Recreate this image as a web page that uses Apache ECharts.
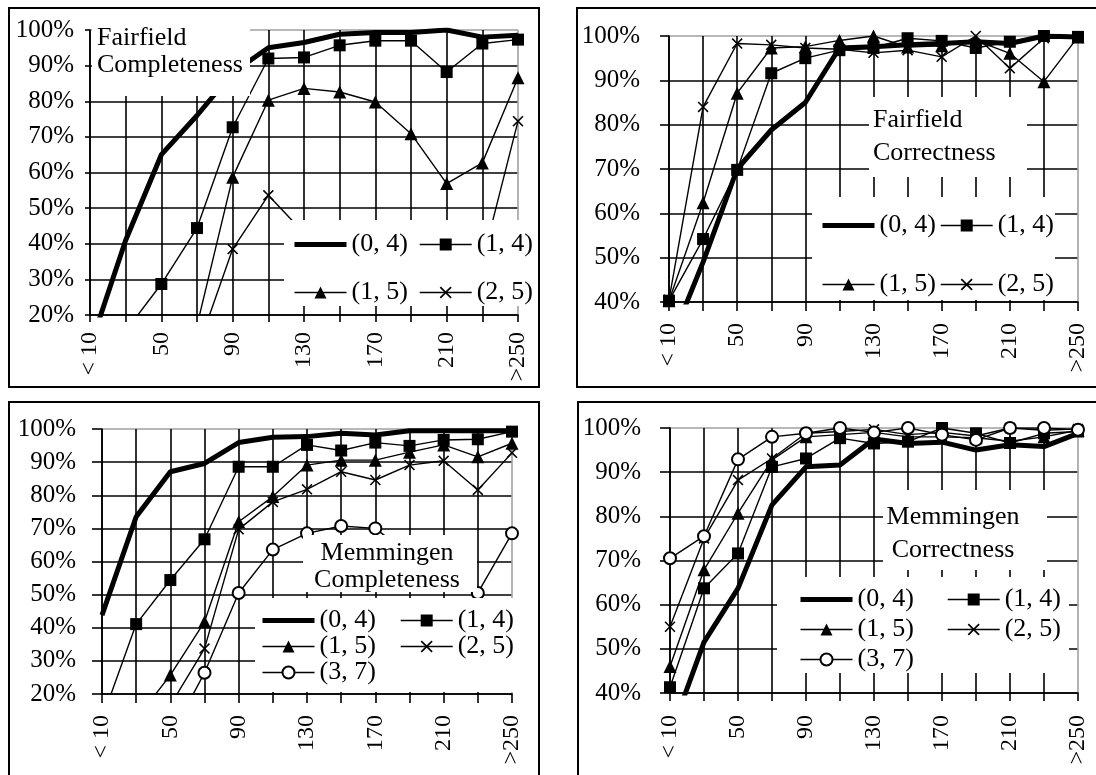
<!DOCTYPE html>
<html>
<head>
<meta charset="utf-8">
<script src="https://cdn.jsdelivr.net/npm/echarts@6/dist/echarts.min.js"></script>
<style>
html,body{margin:0;padding:0;background:#fff;}
#chart{width:1096px;height:775px;}
</style>
</head>
<body>
<div id="chart"></div>
<script>
// ---------- data ----------
const categories = ['< 10','30','50','70','90','110','130','150','170','190','210','230','>250'];
const seriesNames = ['(0, 4)','(1, 4)','(1, 5)','(2, 5)','(3, 7)'];
const panelTitles = ['Fairfield\nCompleteness','Fairfield\nCorrectness','Memmingen\nCompleteness','Memmingen\nCorrectness'];
const yMin = [20, 40, 20, 40];
const yMax = [100, 100, 100, 100];
const yStep = [10, 10, 10, 10];

// Fairfield Completeness
const ffComp04 = [11, 41, 65, 76, 88, 95, 96.5, 98.8, 99.3, 99.3, 100, 98, 98.5];
const ffComp14 = [null, 15.5, 28.7, 44.4, 72.7, 92, 92.3, 95.7, 97, 97, 88.2, 96.2, 97.3];
const ffComp15 = [null, null, null, 17, 58.7, 80.3, 83.6, 82.6, 79.8, 70.9, 56.9, 62.7, 86.6];
const ffComp25 = [null, null, null, 10, 38.5, 53.6, 43, 40, 37, 34, 30, 35, 74.4];
// Fairfield Correctness
const ffCorr04 = [30, 49, 70, 78.8, 85, 97.3, 97.6, 98, 98.3, 98.7, 98.3, 100, 99.8];
const ffCorr14 = [40.3, 54.2, 69.8, 91.6, 95, 96.8, 97.3, 99.5, 98.9, 97.3, 98.7, 100, 99.8];
const ffCorr15 = [40.3, 62.4, 87.1, 97.3, 97.6, 99, 100, 97.5, 97.8, 99, 96.1, 89.7, 99.8];
const ffCorr25 = [40.5, 84, 98.3, 98, 97.3, 97, 96.2, 96.8, 95.3, 100, 92.7, 99.5, 99.5];
// Memmingen Completeness
const mmComp04 = [43.8, 73.5, 87.1, 89.6, 95.9, 97.5, 97.7, 98.7, 98.2, 99.5, 99.5, 99.5, 99.5];
const mmComp14 = [12.4, 41.1, 54.4, 66.7, 88.6, 88.6, 95.2, 93.5, 95.9, 94.9, 96.7, 96.9, 99.2];
const mmComp15 = [null, 12.4, 25.7, 41.8, 72, 79.6, 89.1, 90.6, 90.6, 93, 95.2, 91.6, 95.7];
const mmComp25 = [null, null, 16.6, 33.7, 69.7, 78, 81.8, 87.1, 84.6, 89.1, 90.4, 81.6, 92.8];
const mmComp37 = [null, null, 7, 26.4, 50.5, 63.6, 68.5, 70.7, 70, 62, 57, 50.5, 68.5];
// Memmingen Correctness
const mmCorr04 = [30.4, 51.5, 63.7, 82.6, 91.2, 91.6, 97.5, 96.5, 96.8, 95, 96.2, 95.8, 98.8];
const mmCorr14 = [41.3, 63.7, 71.6, 91.2, 93.1, 97.7, 96.5, 96.9, 100, 98.8, 96.6, 98.8, 99.2];
const mmCorr15 = [46, 67.9, 80.7, 92.8, 98, 98.5, 99, 98, 98, 97.8, 97, 98, 99.5];
const mmCorr25 = [55, 75, 88.2, 93.1, 98.8, 99.2, 99.7, 98.5, 99, 98.2, 100, 99.5, 99.8];
const mmCorr37 = [70.5, 75.5, 92.9, 98, 98.8, 100, 99, 100, 98.5, 97.3, 100, 100, 99.6];

const panelData = [
  [ffComp04, ffComp14, ffComp15, ffComp25],
  [ffCorr04, ffCorr14, ffCorr15, ffCorr25],
  [mmComp04, mmComp14, mmComp15, mmComp25, mmComp37],
  [mmCorr04, mmCorr14, mmCorr15, mmCorr25, mmCorr37]
];

// ---------- layout / style ----------
const FONT = '"Liberation Serif", "Times New Roman", serif';
const GRAY = '#a0a0a0';
const grids = [
  {left: 90,  top: 30,  width: 428, height: 285},
  {left: 669, top: 36,  width: 409, height: 266},
  {left: 102, top: 429, width: 410, height: 265},
  {left: 670, top: 428, width: 408, height: 265}
];
const yLabelMargin = [16, 29, 26, 29];
const xLabelMargin = [17, 21, 21, 22];
const yTickLen = [5, 9, 10, 10];
const xTickLen = [7, 9, 9, 8];

const panelBoxes = [
  {x: 9, y: 8, w: 530, h: 379},
  {x: 577, y: 8, w: 530, h: 379},
  {x: 9, y: 402, w: 530, h: 390},
  {x: 578, y: 402, w: 530, h: 390}
];
const titleBoxes = [
  {x: 92, y: 25, w: 158, h: 71},
  {x: 869, y: 97, w: 158, h: 80},
  {x: 303, y: 535, w: 174, h: 57},
  {x: 883, y: 490, w: 164, h: 80}
];
const titleText = [
  {x: 97, y: 51.5, align: 'left', lh: 27},
  {x: 873, y: 136.5, align: 'left', lh: 33},
  {x: 387, y: 566.5, align: 'center', lh: 27},
  {x: 953, y: 533.5, align: 'center', lh: 33}
];
const legendBoxes = [
  {x: 284, y: 220, w: 253, h: 86},
  {x: 812, y: 197, w: 243, h: 103},
  {x: 255, y: 598, w: 263, h: 94},
  {x: 777, y: 577, w: 292, h: 96}
];
const legendCols = [
  {top: 231.5, gap: 22, cols: [[292, ['(0, 4)','(1, 5)']], [419, ['(1, 4)','(2, 5)']]]},
  {top: 212.5, gap: 33, cols: [[820, ['(0, 4)','(1, 5)']], [940, ['(1, 4)','(2, 5)']]]},
  {top: 607.5, gap: 0,  cols: [[260, ['(0, 4)','(1, 5)','(3, 7)']], [400, ['(1, 4)','(2, 5)']]]},
  {top: 586.5, gap: 4,  cols: [[798, ['(0, 4)','(1, 5)','(3, 7)']], [947, ['(1, 4)','(2, 5)']]]}
];

const X_PATH = 'path://M0,1L1,0L5,4L9,0L10,1L6,5L10,9L9,10L5,6L1,10L0,9L4,5Z';
function styleFor(name) {
  const base = {lineStyle: {color: '#000', width: 1.4}, itemStyle: {color: '#000'}};
  if (name === '(0, 4)') return {symbol: 'none', lineStyle: {color: '#000', width: 5}, itemStyle: {color: '#000'}};
  if (name === '(1, 4)') return Object.assign(base, {symbol: 'rect', symbolSize: 12});
  if (name === '(1, 5)') return Object.assign(base, {symbol: 'triangle', symbolSize: 13});
  if (name === '(2, 5)') return Object.assign(base, {symbol: X_PATH, symbolSize: 11});
  return {symbol: 'emptyCircle', symbolSize: 12, lineStyle: {color: '#000', width: 1.4},
          itemStyle: {color: '#000', borderWidth: 1.3}};
}

function colors(n) { const a = []; for (let i = 0; i < n - 1; i++) a.push('#000'); a.push(GRAY); return a; }

const xAxes = [], yAxes = [], series = [], legends = [], graphics = [];
for (let p = 0; p < 4; p++) {
  const nY = Math.round((yMax[p] - yMin[p]) / yStep[p]) + 1;
  xAxes.push({
    gridIndex: p, type: 'category', data: categories, boundaryGap: false,
    axisLine: {onZero: false, lineStyle: {color: '#000', width: 1.6}},
    axisTick: {show: true, interval: 0, length: xTickLen[p], lineStyle: {color: '#000', width: 1.6}},
    axisLabel: {interval: 1, rotate: 90, margin: xLabelMargin[p], fontFamily: FONT, fontSize: 24, color: '#000'},
    splitLine: {show: true, interval: 0, lineStyle: {color: colors(categories.length), width: 1.6}}
  });
  yAxes.push({
    gridIndex: p, type: 'value', min: yMin[p], max: yMax[p], interval: yStep[p],
    axisLine: {show: true, lineStyle: {color: '#000', width: 1.6}},
    axisTick: {show: true, length: yTickLen[p], lineStyle: {color: '#000', width: 1.6}},
    axisLabel: {formatter: v => v + '%', margin: yLabelMargin[p], fontFamily: FONT, fontSize: 25, color: '#000'},
    splitLine: {show: true, lineStyle: {color: colors(nY), width: 1.6}}
  });
  panelData[p].forEach((arr, k) => {
    const name = seriesNames[k];
    series.push(Object.assign({
      type: 'line', name: name, xAxisIndex: p, yAxisIndex: p, data: arr,
      showAllSymbol: true, clip: true, silent: true, animation: false, z: 2
    }, styleFor(name)));
  });
  const lc = legendCols[p];
  lc.cols.forEach(([left, names]) => {
    legends.push({
      orient: 'vertical', left: left, top: lc.top, padding: 0,
      itemWidth: 52, itemHeight: 15, itemGap: lc.gap, selectedMode: false,
      textStyle: {fontFamily: FONT, fontSize: 26, color: '#000', lineHeight: 21},
      lineStyle: {width: 1.4},
      data: names.map(n => n === '(0, 4)'
        ? {name: n, itemStyle: {opacity: 0}, lineStyle: {width: 5}}
        : {name: n})
    });
  });
  const lb = legendBoxes[p], tb = titleBoxes[p], tt = titleText[p], pb = panelBoxes[p];
  graphics.push({type: 'rect', z: 3, silent: true, shape: {x: lb.x, y: lb.y, width: lb.w, height: lb.h}, style: {fill: '#fff'}});
  graphics.push({type: 'rect', z: 3, silent: true, shape: {x: tb.x, y: tb.y, width: tb.w, height: tb.h}, style: {fill: '#fff'}});
  graphics.push({type: 'text', z: 5, silent: true, x: tt.x, y: tt.y,
    style: {text: panelTitles[p], font: '26px ' + FONT, fill: '#000', align: tt.align, verticalAlign: 'middle', lineHeight: tt.lh}});
  graphics.push({type: 'rect', z: 10, silent: true, shape: {x: pb.x, y: pb.y, width: pb.w, height: pb.h}, style: {fill: 'none', stroke: '#000', lineWidth: 2}});
}

const chart = echarts.init(document.getElementById('chart'), null, {renderer: 'canvas'});
chart.setOption({
  backgroundColor: '#fff',
  animation: false,
  grid: grids.map(g => Object.assign({containLabel: false}, g)),
  xAxis: xAxes, yAxis: yAxes, series: series, legend: legends,
  graphic: {elements: graphics}
});
</script>
</body>
</html>
